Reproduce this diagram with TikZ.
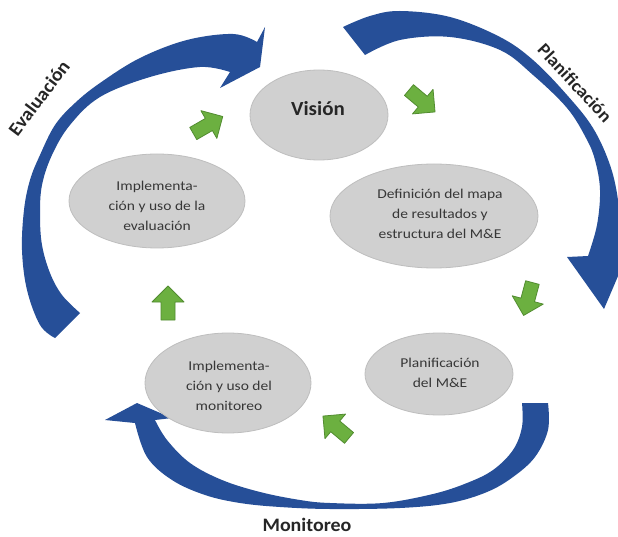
\documentclass[tikz,border=0pt]{standalone}
\usepackage{fontspec}
\setmainfont{Carlito}
\newfontfamily\ellfont[FakeStretch=1.15]{Carlito}
\newfontfamily\lblfont[FakeStretch=1.05]{Carlito}
\usetikzlibrary{shapes.geometric}
\definecolor{bluearc}{RGB}{38,79,152}
\definecolor{ellfill}{RGB}{208,208,208}
\definecolor{elldraw}{RGB}{190,190,190}
\definecolor{grfill}{RGB}{108,176,64}
\definecolor{grdraw}{RGB}{82,140,48}
\definecolor{txt}{RGB}{55,55,55}
\tikzset{
 ellbox/.style={ellipse, draw=elldraw, fill=ellfill, line width=0.8pt, inner sep=0pt},
 elltext/.style={align=center, text=txt, font=\ellfont\fontsize{13.5}{20}\selectfont},
 lbl/.style={font=\lblfont\bfseries\fontsize{19}{22}\selectfont, text=black!85},
 blueshape/.style={fill=bluearc},
 garrow/.pic={\filldraw[fill=grfill, draw=grdraw, line width=0.8pt, line join=round]
   (-17,-7) -- (1,-7) -- (1,-16) -- (17,0) -- (1,16) -- (1,7) -- (-17,7) -- cycle;},
}
\begin{document}
\begin{tikzpicture}[x=1pt, y=-1pt]
\useasboundingbox (0,0) rectangle (618,537);
\fill[white] (0,0) rectangle (618,537);
\begin{scope}
\clip (0,0) rectangle (618,537);
% Evaluacion arc
\fill[blueshape] plot[smooth, tension=0.6] coordinates {(55,338) (40,325) (27,290) (22,250) (24,210) (30,180) (40,155) (55,125) (75,103) (100,83) (140,58) (187,40) (233,34) (257,42)}
  -- (265,27) -- (260,67) -- (220,88)
  -- plot[smooth, tension=0.6] coordinates {(230,72) (200,67) (150,77) (100,97) (70,125) (52,155) (42,185) (40,215) (42,245) (50,273) (62,295) (80,313)} -- cycle;
% Planificacion arc
\fill[blueshape] plot[smooth, tension=0.6] coordinates {(343,27) (370,16) (400,11) (450,17) (500,37) (533,60) (567,95) (593,128) (610,165) (618,200) (620,235)}
  -- (624,262) -- (604,309) -- (567,257)
  -- plot[smooth, tension=0.6] coordinates {(588,256) (597,225) (600,190) (595,160) (586,138) (567,108) (533,75) (500,50) (450,37) (400,40) (365,55)} -- cycle;
% Monitoreo arc
\fill[blueshape] plot[smooth, tension=0.6] coordinates {(548,403) (548,430) (535,457) (513,477) (487,492) (450,503) (400,508) (330,509) (280,507) (240,503) (205,495) (172,480) (147,457) (135,423)}
  -- (105,420) -- (137,403) -- (172,418)
  -- plot[smooth, tension=0.6] coordinates {(155,420) (167,440) (190,463) (222,480) (260,492) (300,500) (330,503) (383,503) (433,494) (467,483) (493,470) (513,450) (522,427) (522,403)} -- cycle;
\end{scope}
% ellipses
\node[ellbox, minimum width=138pt, minimum height=90pt] (vis) at (319,115) {};
\node[ellbox, minimum width=176pt, minimum height=94pt] (eva) at (157,201) {};
\node[ellbox, minimum width=208pt, minimum height=104pt] (def) at (434,216) {};
\node[ellbox, minimum width=166pt, minimum height=100pt] (mon) at (228,383) {};
\node[ellbox, minimum width=148pt, minimum height=82pt] (pla) at (439,374) {};
% texts
\node[lbl, font=\lblfont\bfseries\fontsize{20}{24}\selectfont] (tvis) at (318,109) {Visión};
\node[elltext] (teva) at (157,206) {Implementa-\\ción y uso de la\\evaluación};
\node[elltext] (tdef) at (440,214) {Definición del mapa\\de resultados y\\estructura del M\&E};
\node[elltext] (tmon) at (229,386) {Implementa-\\ción y uso del\\monitoreo};
\node[elltext] (tpla) at (440,373) {Planificación\\del M\&E};
% green arrows
\pic[rotate=30] at (208,125) {garrow};
\pic[rotate=-40] at (422,101) {garrow};
\pic[rotate=-105] at (528,299) {garrow};
\pic[rotate=140] at (336,427) {garrow};
\pic[rotate=90] at (168,303) {garrow};
% labels
\node[lbl, rotate=53] (leva) at (39,98) {Evaluación};
\node[lbl, rotate=-47, font=\lblfont\bfseries\fontsize{18}{22}\selectfont] (lpla) at (575,83) {Planificación};
\node[lbl] (lmon) at (307,525) {Monitoreo};
\end{tikzpicture}
\end{document}
